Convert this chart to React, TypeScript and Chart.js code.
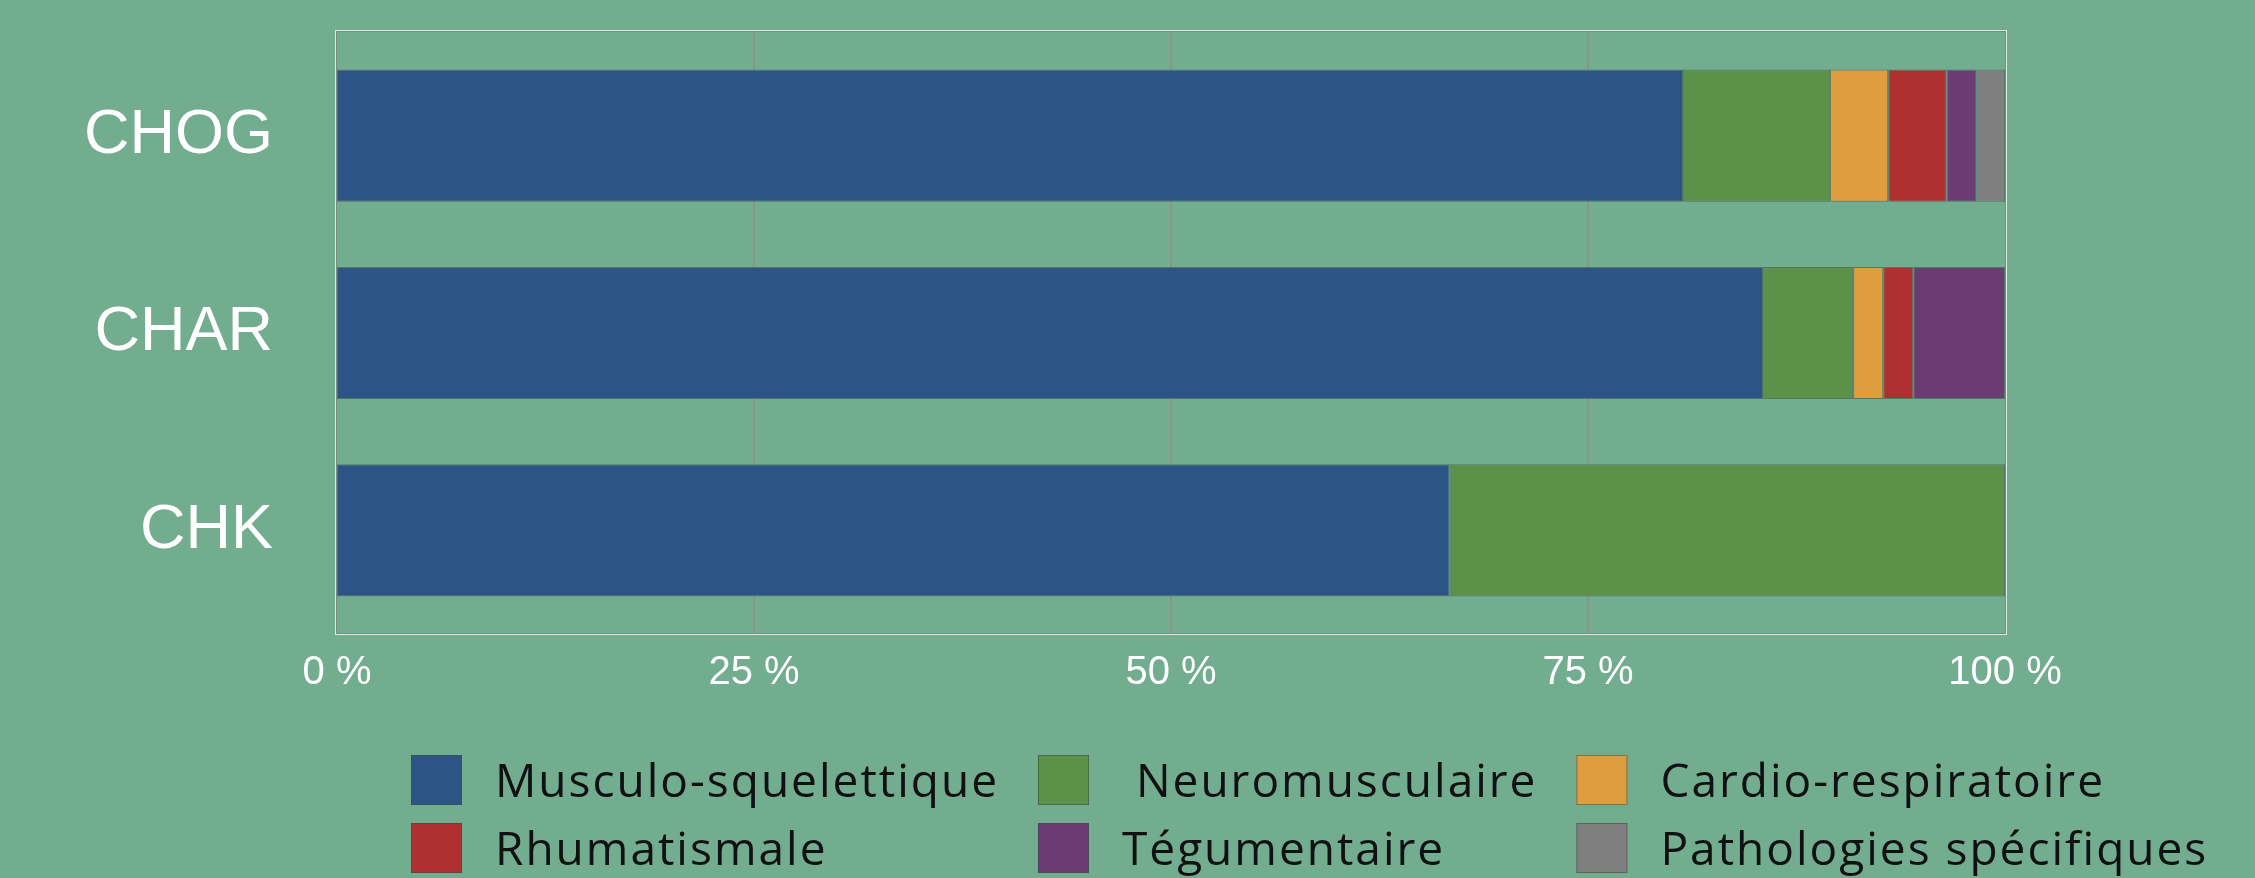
import React, { useEffect, useRef } from 'react';
import { Chart, registerables } from 'chart.js';

Chart.register(...registerables);

const categories = ['CHOG', 'CHAR', 'CHK'];
const seriesNames = [
  'Musculo-squelettique',
  ' Neuromusculaire',
  'Cardio-respiratoire',
  'Rhumatismale',
  'Tégumentaire',
  'Pathologies spécifiques',
];
const musculo = [80.7, 85.5, 66.7];
const neuro = [8.8, 5.4, 33.3];
const cardio = [3.5, 1.8, 0];
const rhumat = [3.5, 1.8, 0];
const tegum = [1.8, 5.5, 0];
const patho = [1.7, 0, 0];
const xTicks = [0, 25, 50, 75, 100];
const seriesColors = ['#2C5585', '#5B9149', '#DE9D3F', '#B02F30', '#6A3C72', '#7F7F7F'];

const BG = '#73AD90';
const FRAME_TOP_EXTRA = 5;
const FRAME_BOTTOM_EXTRA = 4;

const gridPlugin = {
  id: 'gridFrame',
  beforeDatasetsDraw(chart: any) {
    const { ctx, chartArea, scales } = chart;
    const top = chartArea.top - FRAME_TOP_EXTRA;
    const bottom = chartArea.bottom + FRAME_BOTTOM_EXTRA;
    ctx.save();
    ctx.strokeStyle = '#87958d';
    ctx.lineWidth = 2;
    xTicks.forEach((v) => {
      if (v === xTicks[0] || v === xTicks[xTicks.length - 1]) return;
      const x = Math.round(scales.x.getPixelForValue(v));
      ctx.beginPath();
      ctx.moveTo(x, top);
      ctx.lineTo(x, bottom);
      ctx.stroke();
    });
    ctx.restore();
  },
  afterDatasetsDraw(chart: any) {
    const { ctx, chartArea } = chart;
    const { left, right } = chartArea;
    const top = chartArea.top - FRAME_TOP_EXTRA;
    const bottom = chartArea.bottom + FRAME_BOTTOM_EXTRA;
    ctx.save();
    ctx.lineWidth = 1;
    ctx.strokeStyle = 'rgba(235,240,237,0.9)';
    ctx.strokeRect(left - 1.5, top - 1.5, right - left + 3, bottom - top + 3);
    ctx.strokeStyle = '#7c8a82';
    ctx.strokeRect(left - 0.5, top - 0.5, right - left + 1, bottom - top + 1);
    ctx.restore();
  },
};

const tableLegendPlugin = {
  id: 'tableLegend',
  afterDraw(chart: any) {
    const { ctx } = chart;
    const ds = chart.data.datasets;
    const cols = 3;
    const boxW = 51;
    const boxH = 50;
    const textGap = 33;
    const colGap = 39;
    const startX = 411;
    const rowTops = [755, 823];
    ctx.save();
    ctx.font = '46px "Open Sans"';
    (ctx as any).letterSpacing = '2px';
    const colWidths: number[] = [];
    for (let c = 0; c < cols; c++) {
      let mx = 0;
      for (let i = c; i < ds.length; i += cols) {
        mx = Math.max(mx, ctx.measureText(ds[i].label).width);
      }
      colWidths.push(mx);
    }
    ds.forEach((d: any, i: number) => {
      const r = Math.floor(i / cols);
      const c = i % cols;
      let x = startX;
      for (let k = 0; k < c; k++) x += boxW + textGap + colWidths[k] + colGap;
      const y = rowTops[r];
      ctx.fillStyle = d.backgroundColor;
      ctx.fillRect(x, y, boxW, boxH);
      ctx.strokeStyle = 'rgba(60,80,70,0.6)';
      ctx.lineWidth = 1;
      ctx.strokeRect(x + 0.5, y + 0.5, boxW - 1, boxH - 1);
      ctx.fillStyle = '#111111';
      ctx.textBaseline = 'alphabetic';
      ctx.textAlign = 'left';
      ctx.fillText(d.label, x + boxW + textGap, y + 42);
    });
    ctx.restore();
  },
};

const bgPlugin = {
  id: 'bg',
  beforeDraw(chart: any) {
    const { ctx, width, height } = chart;
    ctx.save();
    ctx.fillStyle = BG;
    ctx.fillRect(0, 0, width, height);
    ctx.restore();
  },
};

export default function App() {
  const ref = useRef<HTMLCanvasElement | null>(null);

  useEffect(() => {
    if (!ref.current) return;
    const values = [musculo, neuro, cardio, rhumat, tegum, patho];
    const chart = new Chart(ref.current, {
      type: 'bar',
      data: {
        labels: categories,
        datasets: values.map((v, i) => ({
          label: seriesNames[i],
          data: v,
          backgroundColor: seriesColors[i],
          borderColor: 'rgba(55,75,65,0.55)',
          borderWidth: 1,
          borderSkipped: false,
          categoryPercentage: 1,
          barPercentage: 0.67,
        })),
      },
      options: {
        indexAxis: 'y',
        animation: false,
        responsive: false,
        maintainAspectRatio: false,
        devicePixelRatio: 1,
        layout: { padding: { top: 37, right: 250, left: 0, bottom: 0 } },
        plugins: {
          legend: { display: false },
          tooltip: { enabled: false },
          title: { display: false },
        },
        scales: {
          x: {
            stacked: true,
            min: 0,
            max: 100,
            afterBuildTicks(scale: any) {
              scale.ticks = xTicks.map((v) => ({ value: v }));
            },
            afterFit(scale: any) {
              scale.height = 249;
            },
            border: { display: false },
            grid: { display: false, drawTicks: false },
            ticks: {
              color: '#ffffff',
              font: { family: 'Liberation Sans', size: 40 },
              padding: 20,
              maxRotation: 0,
              autoSkip: false,
              callback: (v: any) => `${v} %`,
            },
          },
          y: {
            stacked: true,
            afterFit(scale: any) {
              scale.width = 337;
              scale.paddingTop = 0;
              scale.paddingBottom = 0;
            },
            border: { display: false },
            grid: { display: false, drawTicks: false },
            ticks: {
              color: '#ffffff',
              font: { family: 'Liberation Sans', size: 63 },
              padding: 64,
            },
          },
        },
      },
      plugins: [bgPlugin, gridPlugin, tableLegendPlugin],
    });
    return () => chart.destroy();
  }, []);

  return (
    <div style={{ position: 'fixed', left: 0, top: 0, width: 2255, height: 878, background: BG }}>
      <canvas ref={ref} width={2255} height={878} style={{ display: 'block', width: 2255, height: 878 }} />
    </div>
  );
}
